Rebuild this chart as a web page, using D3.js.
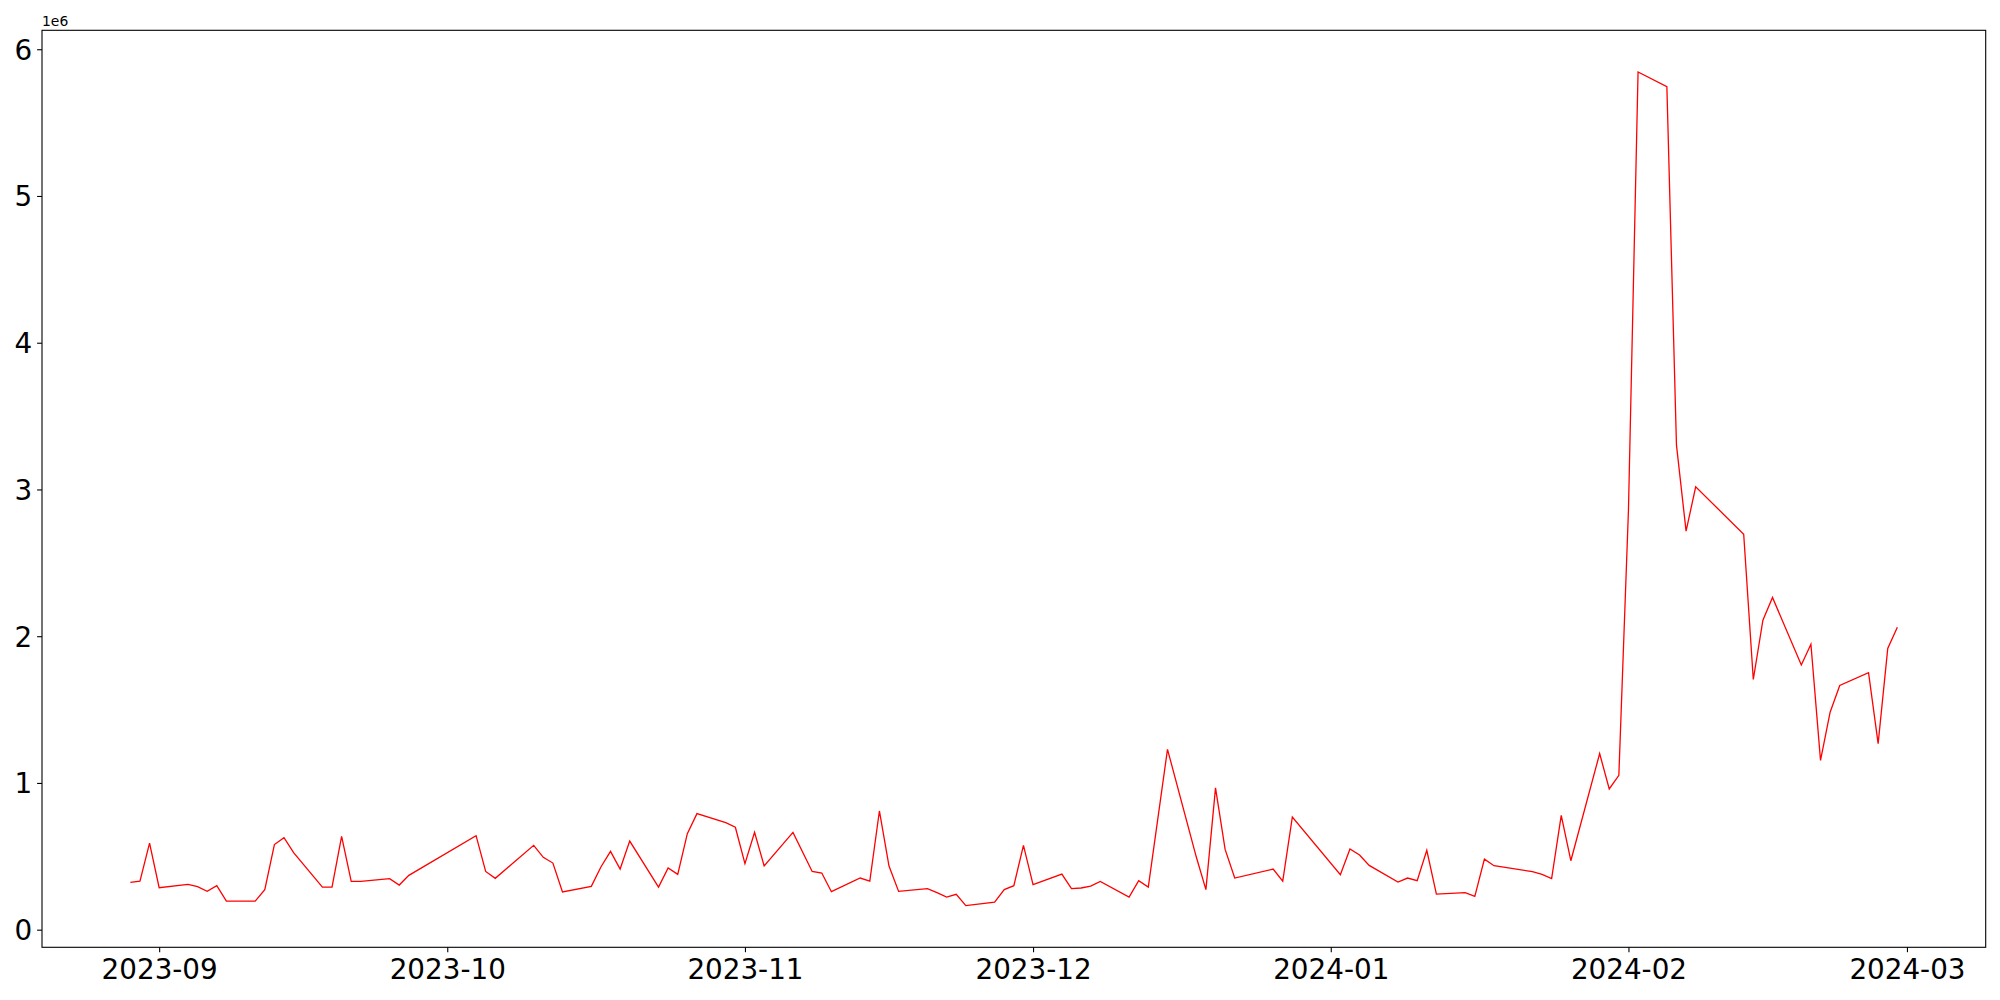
<!DOCTYPE html>
<html>
<head>
<meta charset="utf-8">
<script src="https://cdn.jsdelivr.net/npm/d3@7"></script>
<style>
html, body { margin: 0; padding: 0; background: #fff; }
svg { display: block; font-family: "DejaVu Sans", sans-serif; }
</style>
</head>
<body>
<svg id="chart" width="2000" height="1000"></svg>
<script>
const dates = [
"2023-08-29","2023-08-30","2023-08-31","2023-09-01","2023-09-04","2023-09-05","2023-09-06","2023-09-07","2023-09-08",
"2023-09-11","2023-09-12","2023-09-13","2023-09-14","2023-09-15","2023-09-18","2023-09-19","2023-09-20","2023-09-21",
"2023-09-22","2023-09-25","2023-09-26","2023-09-27","2023-10-04","2023-10-05","2023-10-06","2023-10-10","2023-10-11",
"2023-10-12","2023-10-13","2023-10-16","2023-10-17","2023-10-18","2023-10-19","2023-10-20","2023-10-23","2023-10-24",
"2023-10-25","2023-10-26","2023-10-27","2023-10-30","2023-10-31","2023-11-01","2023-11-02","2023-11-03","2023-11-06",
"2023-11-08","2023-11-09","2023-11-10","2023-11-13","2023-11-14","2023-11-15","2023-11-16","2023-11-17","2023-11-20",
"2023-11-21","2023-11-22","2023-11-23","2023-11-24","2023-11-27","2023-11-28","2023-11-29","2023-11-30","2023-12-01",
"2023-12-04","2023-12-05","2023-12-06","2023-12-07","2023-12-08","2023-12-11","2023-12-12","2023-12-13","2023-12-15",
"2023-12-18","2023-12-19","2023-12-20","2023-12-21","2023-12-22","2023-12-26","2023-12-27","2023-12-28","2024-01-02",
"2024-01-03","2024-01-04","2024-01-05","2024-01-08","2024-01-09","2024-01-10","2024-01-11","2024-01-12","2024-01-15",
"2024-01-16","2024-01-17","2024-01-18","2024-01-22","2024-01-23","2024-01-24","2024-01-25","2024-01-26","2024-01-29",
"2024-01-30","2024-01-31","2024-02-01","2024-02-02","2024-02-05","2024-02-06","2024-02-07","2024-02-08","2024-02-13",
"2024-02-14","2024-02-15","2024-02-16","2024-02-19","2024-02-20","2024-02-21","2024-02-22","2024-02-23","2024-02-26",
"2024-02-27","2024-02-28","2024-02-29"
];
const values = [
322000,331000,590000,286000,309000,293000,261000,300000,195000,
195000,273000,580000,627000,525000,290000,290000,636000,329000,
329000,348000,304000,370000,641000,397000,350000,575000,493000,
454000,257000,295000,427000,534000,413000,604000,290000,420000,
377000,654000,791000,729000,698000,450000,663000,434000,663000,
397000,386000,259000,352000,331000,809000,434000,261000,280000,
252000,222000,241000,164000,188000,273000,300000,575000,307000,
379000,280000,284000,297000,329000,222000,334000,290000,1229000,
495000,273000,966000,547000,352000,413000,331000,768000,375000,
550000,509000,438000,325000,352000,334000,541000,243000,252000,
227000,481000,436000,395000,377000,348000,779000,470000,1200000,
959000,1052000,2860000,5845000,5745000,3302000,2716000,3018000,2695000,
1705000,2109000,2264000,1804000,1945000,1154000,1482000,1664000,1752000,
1268000,1916000,2061000
];
const xTickLabels = ["2023-09","2023-10","2023-11","2023-12","2024-01","2024-02","2024-03"];
const yTickValues = [0,1000000,2000000,3000000,4000000,5000000,6000000];
const yTickLabels = ["0","1","2","3","4","5","6"];
const offsetLabel = "1e6";

const parse = d3.utcParse("%Y-%m-%d");
const parseM = d3.utcParse("%Y-%m");
const data = dates.map((d,i)=>({date: parse(d), value: values[i]}));

const L = 42, R = 1985.7, T = 30.3, B = 947.3;
const svg = d3.select("#chart");

const [d0, d1] = d3.extent(data, d=>d.date);
const span = d1 - d0;
const x = d3.scaleUtc()
  .domain([new Date(+d0 - 0.05*span), new Date(+d1 + 0.05*span)])
  .range([L, R]);
const [v0, v1] = d3.extent(values);
const vs = v1 - v0;
const y = d3.scaleLinear()
  .domain([v0 - 0.05*vs, v1 + 0.05*vs])
  .range([B, T]);

const fs = 27.8;
// X axis
const xAxis = d3.axisBottom(x)
  .tickValues(xTickLabels.map(parseM))
  .tickFormat((d,i)=>xTickLabels[i])
  .tickSizeInner(4.9).tickSizeOuter(0).tickPadding(4.9);
const gx = svg.append("g").attr("transform",`translate(0,${B})`).call(xAxis);
gx.select(".domain").remove();
gx.selectAll(".tick line").attr("stroke","#000").attr("stroke-width",1.1);
gx.selectAll(".tick text").attr("font-size",fs).attr("fill","#000")
  .attr("font-family","DejaVu Sans").attr("dy",null).attr("y",32);

// Y axis
const yAxis = d3.axisLeft(y)
  .tickValues(yTickValues)
  .tickFormat((d,i)=>yTickLabels[i])
  .tickSizeInner(4.9).tickSizeOuter(0).tickPadding(4.9);
const gy = svg.append("g").attr("transform",`translate(${L},0)`).call(yAxis);
gy.select(".domain").remove();
gy.selectAll(".tick line").attr("stroke","#000").attr("stroke-width",1.1);
gy.selectAll(".tick text").attr("font-size",fs).attr("fill","#000")
  .attr("font-family","DejaVu Sans").attr("dy","0.36em");

// line
const line = d3.line().x(d=>x(d.date)).y(d=>y(d.value));
svg.append("path").datum(data)
  .attr("d", line)
  .attr("fill","none")
  .attr("stroke","#ff0000")
  .attr("stroke-width",1.3)
  .attr("stroke-linejoin","miter");

// frame
svg.append("rect").attr("x",L).attr("y",T).attr("width",R-L).attr("height",B-T)
  .attr("fill","none").attr("stroke","#000").attr("stroke-width",1.1);

// offset label
svg.append("text").attr("x",L).attr("y",T-4.5).attr("font-size",13.9)
  .attr("font-family","DejaVu Sans").attr("fill","#000").text(offsetLabel);
</script>
</body>
</html>
